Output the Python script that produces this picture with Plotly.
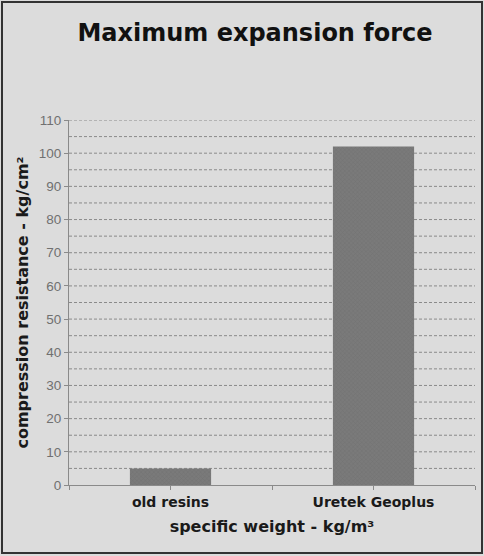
import plotly.graph_objects as go

categories = ["old resins", "Uretek Geoplus"]
values = [5, 102]
grid_values = list(range(5, 111, 5))

W, H = 484, 556
L, R, T, B = 69, 9, 120, 71
pw, ph = W - L - R, H - T - B

def px_x(px):
    return (px - L) / pw

def px_y(py):
    return (H - B - py) / ph

grid = "#8a8a8a"
dash = "3px,2px"

fig = go.Figure()
for g in grid_values:
    fig.add_hline(y=g, line=dict(color=grid, width=1, dash=dash), layer="below")

fig.add_trace(go.Bar(
    x=categories, y=values,
    marker=dict(color="#7a7a7a", line=dict(width=0),
                pattern=dict(shape="x", size=3, fgcolor="#686868", solidity=0.3)),
    width=0.4,
))
# invisible twin: tick marks at category centres
fig.add_trace(go.Bar(x=categories, y=values, xaxis="x2", opacity=0,
                     hoverinfo="skip", width=0.4))

fig.update_layout(
    width=W, height=H,
    margin=dict(l=L, r=R, t=T, b=B),
    paper_bgcolor="#dcdcdc", plot_bgcolor="#dcdcdc",
    showlegend=False,
    title=dict(text="<b>Maximum expansion force</b>", x=255 / W, xref="container",
               y=1 - 33 / H, yanchor="middle", xanchor="center",
               font=dict(family="DejaVu Sans", size=24, color="#111111")),
    font=dict(family="DejaVu Sans", color="#222222"),
    xaxis2=dict(overlaying="x", side="bottom", type="category",
                categoryarray=categories, range=[-0.5, 1.5],
                ticks="outside", ticklen=4, tickcolor=grid,
                showticklabels=False, showgrid=False, showline=False),
    xaxis=dict(
        range=[-0.5, 1.5],
        showline=True, linecolor=grid, linewidth=1,
        ticks="outside", ticklen=4, tickcolor=grid, tickson="boundaries",
        showgrid=False, ticklabelstandoff=4,
        tickfont=dict(family="DejaVu Sans", size=14, color="#1a1a1a", weight="bold"),
        title=dict(text="<b>specific weight - kg/m³</b>", standoff=12,
                   font=dict(family="DejaVu Sans", size=16, color="#1a1a1a")),
    ),
    yaxis=dict(
        range=[0, 110], dtick=10, tick0=0,
        showline=True, linecolor=grid, linewidth=1,
        ticks="outside", ticklen=4, tickcolor=grid,
        showgrid=False, zeroline=False,
        tickfont=dict(family="Liberation Sans", size=13.5, color="#707070"),
        title=dict(text="<b>compression resistance - kg/cm²</b>", standoff=6,
                   font=dict(family="DejaVu Sans", size=16, color="#1a1a1a")),
    ),
)

fig.add_shape(type="rect", xref="paper", yref="paper",
              x0=px_x(2), x1=px_x(482), y0=px_y(553), y1=px_y(2),
              line=dict(color="#333333", width=2), layer="above")

fig.write_html("out.html")
